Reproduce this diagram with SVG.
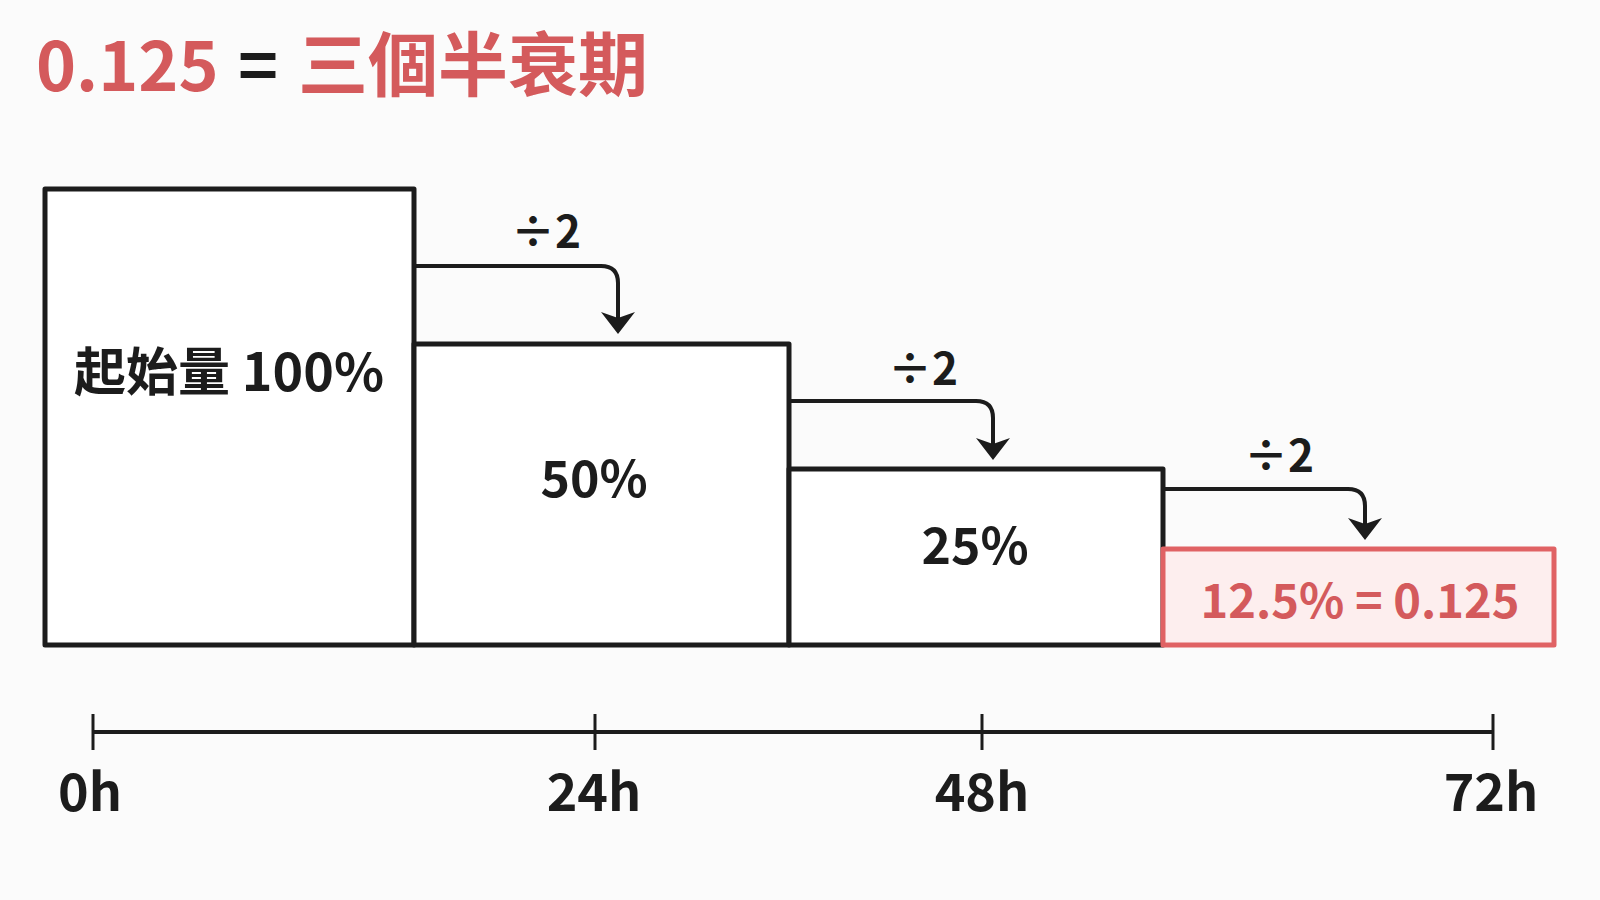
<svg xmlns="http://www.w3.org/2000/svg" width="1600" height="900" viewBox="0 0 1600 900">
<defs>
<style>
.t{font-family:"Noto Sans CJK TC","Noto Sans","Liberation Sans",sans-serif;font-weight:700;}
.dark{fill:#1c1c1c;}
.red{fill:#d45a5c;}
.box{fill:#ffffff;stroke:#1c1c1c;stroke-width:5;stroke-linejoin:round;}
.rbox{fill:#fdeeee;stroke:#e06264;stroke-width:5;stroke-linejoin:round;}
.conn{fill:none;stroke:#1c1c1c;stroke-width:4;stroke-linejoin:round;}
.axis{stroke:#1c1c1c;stroke-width:4;}
.tick{stroke:#1c1c1c;stroke-width:3;}
</style>
<marker id="ah" viewBox="-14 -18 24 36" refX="0" refY="0" markerWidth="24" markerHeight="36" markerUnits="userSpaceOnUse" orient="auto" overflow="visible">
<path d="M9,0 L-13,-17 L-7,0 L-13,17 Z" fill="#1c1c1c"/>
</marker>
</defs>
<rect width="1600" height="900" fill="#fbfbfb"/>

<g id="title">
<text class="t" x="36" y="91" font-size="68"><tspan class="red">0.125</tspan><tspan class="dark" x="238">=</tspan><tspan class="red" x="298" font-size="70">三個半衰期</tspan></text>
</g>

<g id="node-100">
<rect class="box" x="45" y="189" width="369" height="456"/>
<text class="t dark" x="229" y="391" font-size="52" text-anchor="middle">起始量 100%</text>
</g>
<g id="node-50">
<rect class="box" x="414" y="344" width="375" height="301"/>
<text class="t dark" x="594" y="497" font-size="50" text-anchor="middle">50%</text>
</g>
<g id="node-25">
<rect class="box" x="789" y="469" width="374" height="176"/>
<text class="t dark" x="975" y="564" font-size="50" text-anchor="middle">25%</text>
</g>
<g id="node-12">
<rect class="rbox" x="1163" y="549" width="391" height="96"/>
<text class="t red" x="1360" y="618" font-size="47" text-anchor="middle">12.5% = 0.125</text>
</g>

<g id="connectors">
<path class="conn" d="M414 266 H601 Q618 266 618 283 V325" marker-end="url(#ah)"/>
<text class="t dark" x="546" y="248" font-size="44" text-anchor="middle">÷2</text>
<path class="conn" d="M789 401 H976 Q993 401 993 418 V451" marker-end="url(#ah)"/>
<text class="t dark" x="923" y="385" font-size="44" text-anchor="middle">÷2</text>
<path class="conn" d="M1163 489 H1348 Q1365 489 1365 506 V531" marker-end="url(#ah)"/>
<text class="t dark" x="1279" y="472" font-size="44" text-anchor="middle">÷2</text>
</g>

<g id="timeline">
<line class="axis" x1="93" y1="732" x2="1493" y2="732"/>
<line class="tick" x1="93" y1="714" x2="93" y2="750"/>
<line class="tick" x1="595" y1="714" x2="595" y2="750"/>
<line class="tick" x1="982" y1="714" x2="982" y2="750"/>
<line class="tick" x1="1493" y1="714" x2="1493" y2="750"/>
<text class="t dark" x="90" y="811" font-size="52" text-anchor="middle">0h</text>
<text class="t dark" x="594" y="811" font-size="52" text-anchor="middle">24h</text>
<text class="t dark" x="982" y="811" font-size="52" text-anchor="middle">48h</text>
<text class="t dark" x="1491" y="811" font-size="52" text-anchor="middle">72h</text>
</g>
</svg>
